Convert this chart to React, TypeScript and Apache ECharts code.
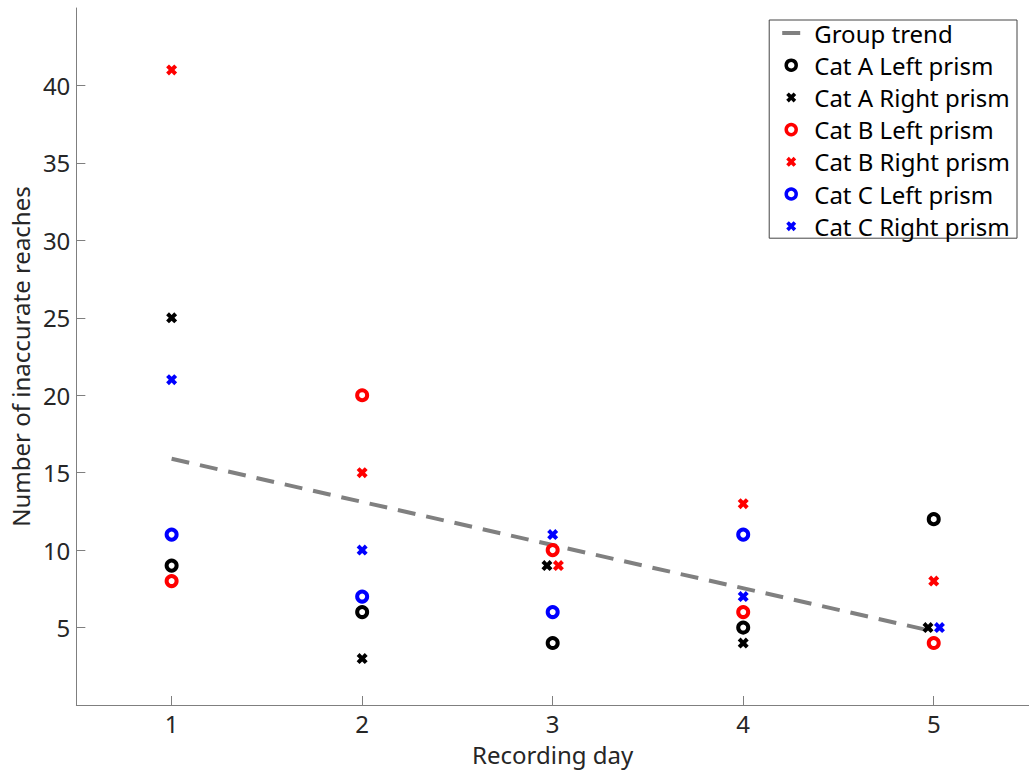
import React, { useEffect, useRef } from "react";
import * as echarts from "echarts";

// Recording days and the inaccurate-reach counts for each cat and prism side
const days = [1, 2, 3, 4, 5];
const catALeft = [9, 6, 4, 5, 12];
const catARight = [25, 3, 9, 4, 5];
const catBLeft = [8, 20, 10, 6, 4];
const catBRight = [41, 15, 9, 13, 8];
const catCLeft: (number | null)[] = [11, 7, 6, 11, null];
const catCRight = [21, 10, 11, 7, 5];

// Small horizontal offsets so coincident right-prism points stay visible
const catARightShift = [0, 0, -0.03, 0, -0.03];
const catBRightShift = [0, 0, 0.03, 0, 0];
const catCRightShift = [0, 0, 0, 0, 0.03];

// Fitted group trend end points
const trendDays = [1, 5];
const trendValues = [15.9, 4.75];

const yTicks = [0, 5, 10, 15, 20, 25, 30, 35, 40, 45];
const xTicks = [1, 2, 3, 4, 5];

const FONT = "Noto Sans";
const CROSS =
  "path://M0,2.6 L2.6,0 L5,2.4 L7.4,0 L10,2.6 L7.6,5 L10,7.4 L7.4,10 L5,7.6 L2.6,10 L0,7.4 L2.4,5 Z";
const BAR = "path://M0,0 L18,0 L18,4 L0,4 Z";

const pts = (vals: (number | null)[], shift?: number[]) =>
  days.map((d, i) => [d + (shift ? shift[i] : 0), vals[i]]).filter((p) => p[1] !== null);

const ring = (name: string, color: string, vals: (number | null)[]) => ({
  name,
  type: "scatter",
  data: pts(vals),
  symbol: "circle",
  symbolSize: 10,
  itemStyle: { color: "#ffffff", borderColor: color, borderWidth: 4, opacity: 1 },
  emphasis: { disabled: true },
  z: 3,
});

const cross = (name: string, color: string, vals: number[], shift: number[]) => ({
  name,
  type: "scatter",
  data: pts(vals, shift),
  symbol: CROSS,
  symbolSize: 11,
  itemStyle: { color, opacity: 1 },
  emphasis: { disabled: true },
  z: 3,
});

const ringKey = (name: string, color: string) => ({
  name,
  icon: "circle",
  itemStyle: { color: "#ffffff", borderColor: color, borderWidth: 3.5 },
});

const crossKey = (name: string, color: string) => ({
  name,
  icon: CROSS,
  itemStyle: { color, borderWidth: 0 },
});

export default function App() {
  const ref = useRef<HTMLDivElement>(null);

  useEffect(() => {
    if (!ref.current) return;
    const chart = echarts.init(ref.current, undefined, { renderer: "svg" });
    const axisColor = "#7f7f7f";
    const textColor = "#262626";
    chart.setOption({
      animation: false,
      backgroundColor: "#ffffff",
      textStyle: { fontFamily: FONT },
      grid: { left: 75, right: 0, top: 8, bottom: 69, containLabel: false },
      xAxis: {
        type: "value",
        min: 0.5,
        max: 5.5,
        name: "Recording day",
        nameLocation: "middle",
        nameGap: 37,
        nameTextStyle: { fontSize: 24, color: textColor, fontFamily: FONT },
        axisLine: { show: true, lineStyle: { color: axisColor, width: 1 } },
        axisTick: { show: true, inside: true, length: 9, customValues: xTicks, lineStyle: { color: axisColor } },
        axisLabel: { customValues: xTicks, fontSize: 24, color: textColor, margin: 6, fontFamily: FONT },
        splitLine: { show: false },
      },
      yAxis: {
        type: "value",
        min: 0,
        max: 45,
        interval: 5,
        name: "Number of inaccurate reaches",
        nameLocation: "middle",
        nameGap: 42,
        nameTextStyle: { fontSize: 24, color: textColor, fontFamily: FONT },
        axisLine: { show: true, lineStyle: { color: axisColor, width: 1 } },
        axisTick: { show: true, inside: true, length: 9, customValues: yTicks, lineStyle: { color: axisColor } },
        axisLabel: {
          fontSize: 24,
          color: textColor,
          margin: 6,
          fontFamily: FONT,
          showMinLabel: false,
          showMaxLabel: false,
          formatter: (v: number) => (v === 0 || v === 45 ? "" : String(v)),
        },
        splitLine: { show: false },
      },
      legend: {
        orient: "vertical",
        right: 12,
        top: 20,
        padding: [1, 7, 0, 13],
        itemGap: 8.2,
        itemWidth: 18,
        itemHeight: 10,
        borderColor: "#444444",
        borderWidth: 1,
        backgroundColor: "#ffffff",
        textStyle: { fontSize: 24, color: "#000000", fontFamily: FONT, padding: [0, 0, 0, 9] },
        data: [
          { name: "Group trend", icon: BAR, itemStyle: { color: "#808080", borderWidth: 0 } },
          ringKey("Cat A Left prism", "#000000"),
          crossKey("Cat A Right prism", "#000000"),
          ringKey("Cat B Left prism", "#ff0000"),
          crossKey("Cat B Right prism", "#ff0000"),
          ringKey("Cat C Left prism", "#0000ff"),
          crossKey("Cat C Right prism", "#0000ff"),
        ],
      },
      series: [
        // Empty series that carries the solid key swatch for the trend
        {
          name: "Group trend",
          type: "scatter",
          data: [],
          symbol: BAR,
          symbolSize: [18, 4],
          itemStyle: { color: "#808080", opacity: 1 },
        },
        {
          name: "Group trend line",
          type: "line",
          data: trendDays.map((d, i) => [d, trendValues[i]]),
          showSymbol: false,
          symbol: "none",
          lineStyle: { color: "#808080", width: 4, type: [18, 11] },
          itemStyle: { color: "#808080" },
          emphasis: { disabled: true },
          z: 2,
        },
        ring("Cat A Left prism", "#000000", catALeft),
        cross("Cat A Right prism", "#000000", catARight, catARightShift),
        ring("Cat B Left prism", "#ff0000", catBLeft),
        cross("Cat B Right prism", "#ff0000", catBRight, catBRightShift),
        ring("Cat C Left prism", "#0000ff", catCLeft),
        cross("Cat C Right prism", "#0000ff", catCRight, catCRightShift),
      ],
    });
    return () => chart.dispose();
  }, []);

  return (
    <div
      ref={ref}
      style={{ position: "fixed", left: 0, top: 0, width: 1029, height: 774, background: "#ffffff" }}
    />
  );
}
